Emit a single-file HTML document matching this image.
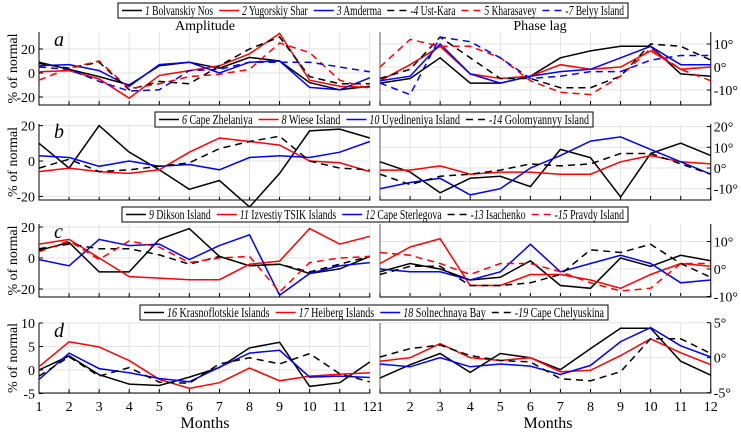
<!DOCTYPE html>
<html><head><meta charset="utf-8"><style>
body{margin:0;background:#fff}
svg{display:block;font-family:"Liberation Serif",serif}
</style></head><body>
<svg id="s" width="741" height="432" xmlns="http://www.w3.org/2000/svg"></svg>
<script>
const s=document.getElementById('s');let h='';
const LX0=39,RX0=380,DX=30.07;
const panels=[
 {top:32,bot:105,l:{y0:73,k:1.2,ticks:[20,0,-20]},r:{y0:67,k:2.3,ticks:[10,0,-10]},letter:'a',
  L:[['#000',0,[9,3,-3,-10,6,9,4,13,10,-8,-14,-11]],['#f00',0,[1,2,-5,-21,-2,2,6,16,33,-6,-11,-12]],['#00f',0,[6,7,2,-11,7,9,0,9,10,-12,-14,-4]],['#000',1,[8,4,9,-14,-7,-9,6,20,30,-3,-9,-9]],['#f00',1,[-6,4,10,-13,-9,-3,-1,3,25,17,-6,-13]],['#00f',1,[5,3,-7,-15,-14,2,3,9,9,9,5,1]]],
  R:[['#000',0,[-7,-5,4,-7,-7,-4,4,7,9,9,-3,-4]],['#f00',0,[-6,1,9,-3,-5,-4,1,-1,0,7,-1,0]],['#00f',0,[-6,-4,10,-3,-7,-4,-2,-1,4,9,1,1]],['#000',1,[-5,-1,13,4,-5,-5,-9,-9,-4,10,9,3]],['#f00',1,[0,12,9,9,4,-6,-11,-12,-4,8,-1,-6]],['#00f',1,[-7,-12,13,11,4,-5,-4,-2,-2,3,5,5]]]},
 {top:124,bot:200,l:{y0:161,k:1.77,ticks:[20,0,-20]},r:{y0:168,k:2.07,ticks:[20,10,0,-10]},letter:'b',
  L:[['#000',0,[10,-4,20,5,-5,-16,-11,-26,-7,17,18,13]],['#f00',0,[-6,-4,-6,-7,-5,5,13,11,9,0,-1,-6]],['#00f',0,[3,2,-3,0,-3,-2,-5,2,3,2,5,11]],['#000',1,[-4,1,-6,-5,-3,-1,7,11,14,0,-4,-5]]],
  R:[['#000',0,[3,-2,-12,-5,-4,-9,9,5,-14,7,12,6]],['#f00',0,[-1,-1,1,-3,-2,-2,-3,-3,3,6,3,2]],['#00f',0,[-10,-7,-5,-13,-10,0,6,13,15,9,3,-3]],['#000',1,[-3,-8,-4,-3,-1,2,1,2,7,7,2,-3]]]},
 {top:224,bot:297,l:{y0:258,k:1.55,ticks:[20,0,-20]},r:{y0:269,k:2.75,ticks:[10,0,-10]},letter:'c',
  L:[['#000',0,[5,10,-9,-9,12,19,1,-5,-4,-10,-7,1]],['#f00',0,[9,12,0,-12,-13,-14,-14,-4,-2,19,9,14]],['#00f',0,[-1,-5,12,8,9,-1,8,15,-24,-10,-5,-3]],['#000',1,[6,9,6,6,2,-4,1,-5,-4,-9,-4,1]],['#f00',1,[4,11,-1,11,7,-3,0,1,-22,-3,0,1]]],
  R:[['#000',0,[-1,2,0,-4,-3,3,-6,-7,4,1,5,3]],['#f00',0,[2,8,11,-6,-6,-2,-2,-4,-7,-2,2,1]],['#00f',0,[0,-1,-1,-4,-1,9,-1,2,5,2,-5,-4]],['#000',1,[-2,1,1,-6,-6,-5,-2,7,6,9,2,-3]],['#f00',1,[6,5,2,-2,2,2,-1,-5,-8,-7,2,2]]]},
 {top:323,bot:393,l:{y0:370,k:4.7,ticks:[10,5,0,-5]},r:{y0:357.7,k:7,ticks:[5,0,-5]},letter:'d',
  L:[['#000',0,[0,3,-1,-3,-3.3,-1.5,0.5,4.7,5.9,-3.5,-2.7,1.7]],['#f00',0,[0.7,6,4.9,2,-2,-3.9,-2.7,0.4,-2.3,-1.3,-0.9,-0.6]],['#00f',0,[-2,3.6,0.3,-0.6,-1.8,-2.5,0.6,3.6,4.2,-1.5,-1.3,-1.6]],['#000',1,[-1.3,2.8,-1.3,0.5,-2.6,-2.8,1.3,2.6,1.3,3.5,-0.8,-2.5]]],
  R:[['#000',0,[-2.9,-1,0.6,-2.1,0.6,0,-1.7,1.3,4.2,4.2,-0.5,-2.5]],['#f00',0,[-0.5,0,2,0,-0.4,0,-2,-1.8,0.3,2.7,0.7,-1]],['#00f',0,[-0.9,-1.3,0,-1.3,-0.9,-1.2,-2.4,-1.1,2.3,4.3,1.7,0.1]],['#000',1,[0.1,1.3,1.8,0.3,-0.4,-0.6,-3,-3.3,-2,2.7,2.7,0.6]]]}
];
panels.forEach((p,pi)=>{
 [[LX0,p.l,p.L,0],[RX0,p.r,p.R,1]].forEach(([x0,ax,ser,isR])=>{
  const x1=x0+11*DX;
  for(let m=0;m<12;m++){const x=x0+m*DX;h+=`<line x1="${x}" y1="${p.top}" x2="${x}" y2="${p.bot}" stroke="#e3e3e3" stroke-width="1"/>`;
   h+=`<line x1="${x}" y1="${p.bot}" x2="${x}" y2="${p.bot-4}" stroke="#000" stroke-width="1"/>`;}
  ax.ticks.forEach(t=>{const y=ax.y0-t*ax.k;h+=`<line x1="${x0}" y1="${y}" x2="${x1}" y2="${y}" stroke="#e3e3e3"/>`;
   if(!isR){h+=`<line x1="${x0}" y1="${y}" x2="${x0+4}" y2="${y}" stroke="#000"/><text x="${x0-4}" y="${y+5}" font-size="14" text-anchor="end">${t}</text>`;}
   else{h+=`<line x1="${x1}" y1="${y}" x2="${x1-4}" y2="${y}" stroke="#000"/><text x="${x1+3}" y="${y+5}" font-size="14">${t}°</text>`;}
  });
  h+=`<line x1="${x0-0.5}" y1="${p.bot}" x2="${x1+0.5}" y2="${p.bot}" stroke="#000"/>`;
  h+=`<line x1="${isR?x1:x0}" y1="${p.top}" x2="${isR?x1:x0}" y2="${p.bot}" stroke="#000"/>`;
  if(isR)h+=`<line x1="${x0}" y1="${p.top}" x2="${x0}" y2="${p.bot}" stroke="#000" stroke-width="0.6"/>`;
  ser.forEach(([c,d,v])=>{const pts=v.map((y,i)=>`${(x0+i*DX).toFixed(1)},${(ax.y0-y*ax.k).toFixed(1)}`).join(' ');
   h+=`<polyline points="${pts}" fill="none" stroke="${c}" stroke-width="1.5" ${d?'stroke-dasharray="7,5"':''}/>`;});
 });
 h+=`<text x="54" y="${p.top+14}" font-size="20" font-style="italic">${p.letter}</text>`;
 h+=`<text transform="translate(17,${(p.top+p.bot)/2}) rotate(-90)" font-size="14" text-anchor="middle">% of normal</text>`;
});
h+=`<text x="205" y="30" font-size="14" text-anchor="middle">Amplitude</text><text x="540" y="30" font-size="14" text-anchor="middle">Phase lag</text>`;
for(let m=0;m<12;m++){[LX0,RX0].forEach(x0=>{h+=`<text x="${x0+m*DX}" y="411" font-size="14" text-anchor="middle">${m+1}</text>`;});}
h+=`<text x="205" y="428" font-size="16" text-anchor="middle">Months</text><text x="548" y="428" font-size="16" text-anchor="middle">Months</text>`;
s.innerHTML=h;
const NS='http://www.w3.org/2000/svg';
function el(t,a,txt){const e=document.createElementNS(NS,t);for(const k in a)e.setAttribute(k,a[k]);if(txt!==undefined)e.innerHTML=txt;s.appendChild(e);return e;}
function legend(x,y,w,items){
 el('rect',{x:x,y:y,width:w,height:15,fill:'#fff',stroke:'#000','stroke-width':1});
 const texts=[],lens=[];let total=0;const n=items.length;
 items.forEach(([c,d,nn,t])=>{const te=el('text',{y:y+12,'font-size':13.5},`<tspan font-style="italic">${nn}</tspan> ${t}`);texts.push(te);const L=te.getComputedTextLength();lens.push(L);total+=L;});
 const lineW=20,gapA=3,gap=6;
 const need=w-8-n*(lineW+gapA)-(n-1)*gap;
 const sc=Math.min(1,need/total);
 let cx=x+4;
 items.forEach(([c,d],i)=>{const l=el('line',{x1:cx,y1:y+7.5,x2:cx+lineW,y2:y+7.5,stroke:c,'stroke-width':1.5});if(d)l.setAttribute('stroke-dasharray','7,5');
  cx+=lineW+gapA;const tw=lens[i]*sc;texts[i].setAttribute('x',cx);
  texts[i].setAttribute('textLength',tw.toFixed(1));texts[i].setAttribute('lengthAdjust','spacingAndGlyphs');
  cx+=tw+gap;});
}
legend(118,3,510,[['#000',0,'1','Bolvanskiy Nos'],['#f00',0,'2','Yugorskiy Shar'],['#00f',0,'3','Amderma'],['#000',1,'-4','Ust-Kara'],['#f00',1,'5','Kharasavey'],['#00f',1,'-7','Belyy Island']]);
legend(155,112,438,[['#000',0,'6','Cape Zhelaniya'],['#f00',0,'8','Wiese Island'],['#00f',0,'10','Uyedineniya Island'],['#000',1,'-14','Golomyannyy Island']]);
legend(122,207,506,[['#000',0,'9','Dikson Island'],['#f00',0,'11','Izvestiy TSIK Islands'],['#00f',0,'12','Cape Sterlegova'],['#000',1,'-13','Isachenko'],['#f00',1,'-15','Pravdy Island']]);
legend(140,305,468,[['#000',0,'16','Krasnoflotskie Islands'],['#f00',0,'17','Heiberg Islands'],['#00f',0,'18','Solnechnaya Bay'],['#000',1,'-19','Cape Chelyuskina']]);
</script>
</body></html>
